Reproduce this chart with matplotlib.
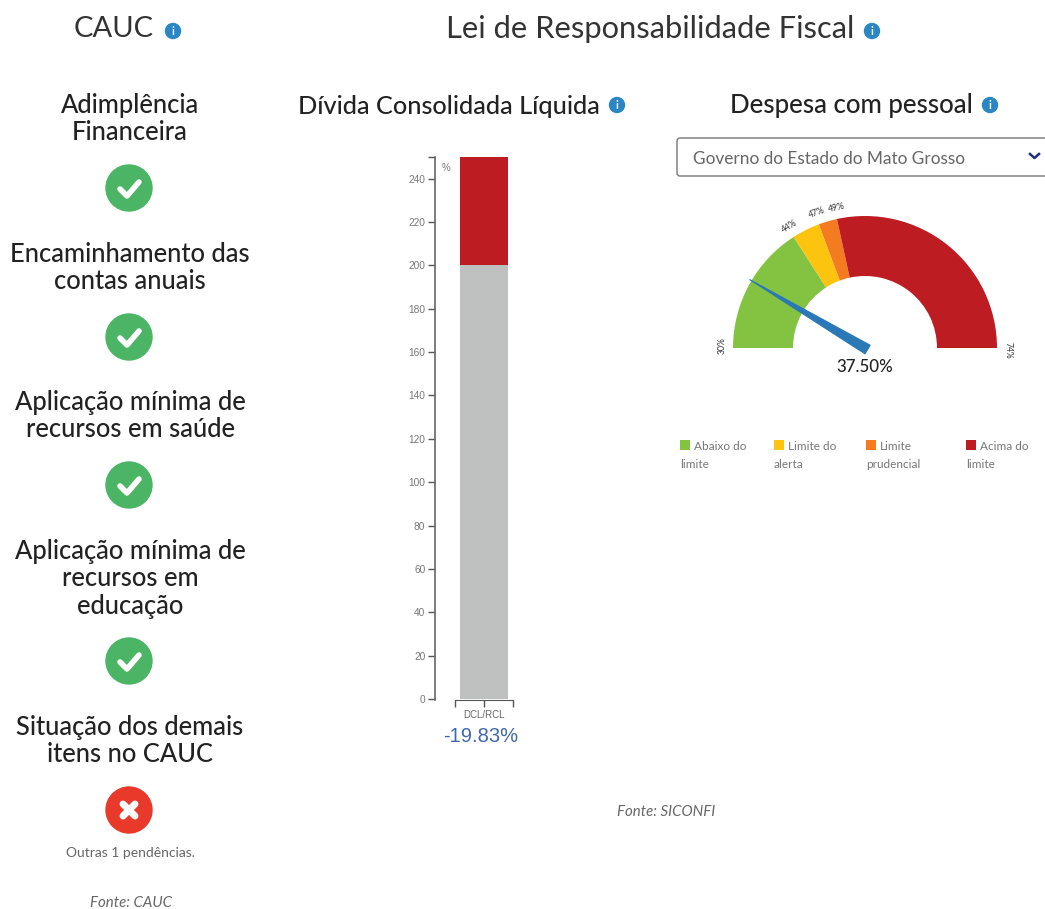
import matplotlib
matplotlib.use('Agg')
import matplotlib.pyplot as plt
import numpy as np
from matplotlib.patches import Wedge, Circle, FancyBboxPatch, Rectangle, Polygon

plt.rcParams['font.family'] = ['Lato', 'DejaVu Sans']

# CAUC items
cauc_items = ['Adimplência\nFinanceira', 'Encaminhamento das\ncontas anuais',
              'Aplicação mínima de\nrecursos em saúde',
              'Aplicação mínima de\nrecursos em\neducação',
              'Situação dos demais\nitens no CAUC']
cauc_ok = [True, True, True, True, False]

# Divida consolidada
bar_cat = ['DCL/RCL']
bar_grey = [200]
bar_red = [50]
bar_ticks = list(range(0, 260, 20))

# Gauge
gauge_limits = [30, 44, 47, 49, 74]
gauge_colors = ['#84c341', '#fcc30f', '#f47b20', '#bd1c22']
gauge_value = 37.50
legend_labels = ['Abaixo do\nlimite', 'Limite do\nalerta', 'Limite\nprudencial', 'Acima do\nlimite']

W, H = 1045, 909
fig = plt.figure(figsize=(W / 100, H / 100), dpi=100)

# whole page axes in pixels, for the text and the icons
page = fig.add_axes([0, 0, 1, 1])
page.set_xlim(0, W)
page.set_ylim(H, 0)
page.axis('off')


def axes_px(x0, y0, x1, y1):
    return fig.add_axes([x0 / W, 1 - y1 / H, (x1 - x0) / W, (y1 - y0) / H])


def info_icon(x, y):
    page.add_patch(Circle((x, y), 7.5, color='#2a87c4', zorder=3))
    page.text(x, y + 0.5, 'i', color='white', fontsize=8, fontweight='bold', ha='center', va='center', zorder=4)


def status_icon(y, ok):
    if ok:
        page.add_patch(Circle((129, y), 23, color='#4cb565', zorder=3))
        page.plot([120, 127, 139], [y + 1, y + 8, y - 6], color='white', lw=4, zorder=4, solid_capstyle='round')
    else:
        page.add_patch(Circle((129, y), 23, color='#e8392b', zorder=3))
        page.plot([123, 135], [y - 6, y + 6], color='white', lw=5, zorder=4, solid_capstyle='round')
        page.plot([123, 135], [y + 6, y - 6], color='white', lw=5, zorder=4, solid_capstyle='round')


dark = '#333333'
page.text(114, 29, 'CAUC', fontsize=21, color=dark, ha='center', va='center')
info_icon(173, 31)
page.text(650, 29, 'Lei de Responsabilidade Fiscal', fontsize=22.2, color=dark, ha='center', va='center')
info_icon(872, 31)
page.text(449, 106, 'Dívida Consolidada Líquida', fontsize=18.2, color='#222222', fontweight='medium', ha='center', va='center')
info_icon(617, 105)
page.text(851, 106, 'Despesa com pessoal', fontsize=18.6, color='#222222', fontweight='medium', ha='center', va='center')
info_icon(990, 105)

# left column
label_y = [119, 268, 416, 579, 741]
icon_y = [188, 337, 485, 661, 810]
for item, ly, iy, ok in zip(cauc_items, label_y, icon_y, cauc_ok):
    page.text(130, ly, item, fontsize=18.4, color='#222222', fontweight='medium', ha='center', va='center', linespacing=1.13)
    status_icon(iy, ok)
page.text(130, 853, 'Outras 1 pendências.', fontsize=10, color='#666666', ha='center', va='center')
page.text(131, 903, 'Fonte: CAUC', fontsize=10.8, color='#666666', style='italic', ha='center', va='center')
page.text(666, 812, 'Fonte: SICONFI', fontsize=10.8, color='#666666', style='italic', ha='center', va='center')

# bar chart
ax = axes_px(435, 157, 513, 700)
ax.patch.set_alpha(0)
ax.bar(bar_cat, bar_grey, width=1, color='#bfc1c1')
ax.bar(bar_cat, bar_red, width=1, bottom=bar_grey, color='#bd1c22')
ax.set_xlim(-1.02, 0.604)
ax.set_ylim(-0.5, 250)
ax.set_yticks(bar_ticks + [250])
ax.set_yticklabels([str(t) for t in bar_ticks] + [''], fontsize=7.3, color='#777777', family='Liberation Sans')
ax.set_xticks([-0.604, 0, 0.604])
ax.set_xticklabels(['', bar_cat[0], ''], fontsize=7, color='#666666', family='Liberation Sans')
ax.tick_params(axis='both', length=5, width=1, color='#555555', pad=2)
for side in ['top', 'right']:
    ax.spines[side].set_visible(False)
ax.spines['left'].set_color('#666666')
ax.spines['left'].set_linewidth(1.2)
ax.spines['bottom'].set_bounds(-0.604, 0.604)
ax.spines['bottom'].set_color('#555555')
ax.text(-0.8, 245, '%', fontsize=7, color='#777777', ha='center', va='center', family='Liberation Sans')
page.text(481, 737, '-19.83%', fontsize=14.5, color='#3f68ad', ha='center', va='center', family='Liberation Sans')

# dropdown
page.add_patch(FancyBboxPatch((677, 138), 380, 38, boxstyle='round,pad=0,rounding_size=3',
                              fc='white', ec='#777777', lw=1))
page.text(693, 159, 'Governo do Estado do Mato Grosso', fontsize=12.4, color='#666666', va='center')
page.plot([1030, 1034.5, 1039], [154, 158, 154], color='#1c2f80', lw=1.8)

# gauge, one data unit is one pixel
cx, cy = 865, 348
g = axes_px(cx - 160, cy - 160, cx + 160, cy + 40)
g.set_xlim(-160, 160)
g.set_ylim(-40, 160)
g.axis('off')
g.patch.set_alpha(0)


def to_angle(v):
    return 180 - 180 * (v - gauge_limits[0]) / (gauge_limits[-1] - gauge_limits[0])


for i, col in enumerate(gauge_colors):
    g.add_patch(Wedge((0, 0), 132, to_angle(gauge_limits[i + 1]), to_angle(gauge_limits[i]), width=60, fc=col, ec='none'))

for v in gauge_limits:
    a = to_angle(v)
    r = np.radians(a - 1)
    offset = 143
    g.text(offset * np.cos(r), offset * np.sin(r), f'{v}%', fontsize=6.2, color='#333333', rotation=a - 90,
           ha='center', va='center', rotation_mode='anchor')

# needle
r = np.radians(to_angle(gauge_value))
ux, uy = np.cos(r), np.sin(r)
nx, ny = -uy, ux
tip = (134 * ux, 134 * uy)
b1 = (-3 * ux + 5 * nx, -3 * uy + 5 * ny)
b2 = (-3 * ux - 5 * nx, -3 * uy - 5 * ny)
g.add_patch(Polygon([tip, b1, b2], fc='#2a78b5', ec='#2a78b5', lw=0.8, joinstyle='round'))
g.text(0, -19, f'{gauge_value:.2f}%', fontsize=12.2, color='#222222', fontweight='medium', ha='center', va='center')

# gauge legend
leg_x = [680, 774, 866, 966]
for lx, col, lab in zip(leg_x, gauge_colors, legend_labels):
    page.add_patch(Rectangle((lx, 440), 10, 10, fc=col, ec='none'))
    first, second = lab.split('\n')
    page.text(lx + 14, 446, first, fontsize=8.5, color='#777777', va='center')
    page.text(lx, 464, second, fontsize=8.5, color='#777777', va='center')

fig.savefig('out.png', dpi=100)
